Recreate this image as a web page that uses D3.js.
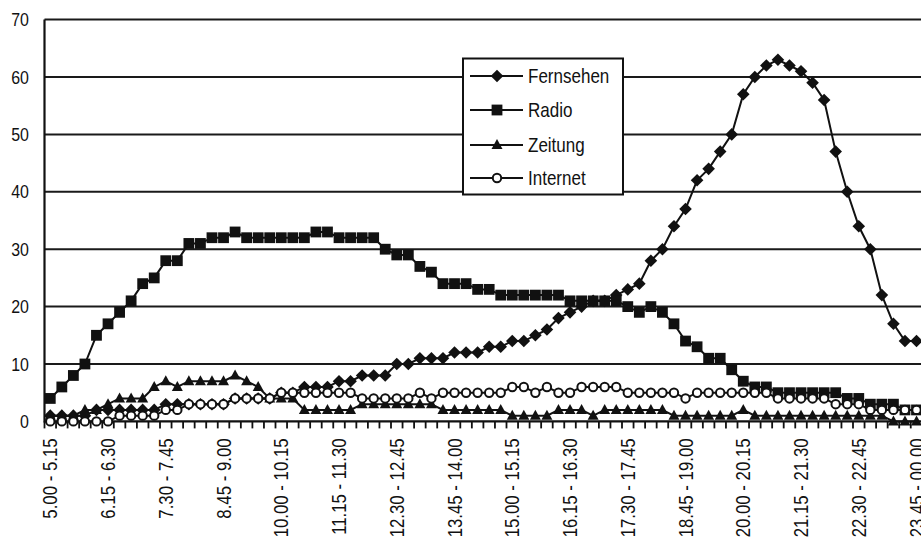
<!DOCTYPE html>
<html><head><meta charset="utf-8">
<script src="https://cdn.jsdelivr.net/npm/d3@7"></script>
<style>
html,body{margin:0;padding:0;background:#fff;}
svg{display:block;}
text{font-family:"Liberation Sans",Arial,sans-serif;fill:#111;}
</style></head>
<body>
<svg id="chart" width="921" height="544"></svg>
<script>
const categories = [
"5.00 - 5.15","5.15 - 5.30","5.30 - 5.45","5.45 - 6.00",
"6.00 - 6.15","6.15 - 6.30","6.30 - 6.45","6.45 - 7.00",
"7.00 - 7.15","7.15 - 7.30","7.30 - 7.45","7.45 - 8.00",
"8.00 - 8.15","8.15 - 8.30","8.30 - 8.45","8.45 - 9.00",
"9.00 - 9.15","9.15 - 9.30","9.30 - 9.45","9.45 - 10.00",
"10.00 - 10.15","10.15 - 10.30","10.30 - 10.45","10.45 - 11.00",
"11.00 - 11.15","11.15 - 11.30","11.30 - 11.45","11.45 - 12.00",
"12.00 - 12.15","12.15 - 12.30","12.30 - 12.45","12.45 - 13.00",
"13.00 - 13.15","13.15 - 13.30","13.30 - 13.45","13.45 - 14.00",
"14.00 - 14.15","14.15 - 14.30","14.30 - 14.45","14.45 - 15.00",
"15.00 - 15.15","15.15 - 15.30","15.30 - 15.45","15.45 - 16.00",
"16.00 - 16.15","16.15 - 16.30","16.30 - 16.45","16.45 - 17.00",
"17.00 - 17.15","17.15 - 17.30","17.30 - 17.45","17.45 - 18.00",
"18.00 - 18.15","18.15 - 18.30","18.30 - 18.45","18.45 - 19.00",
"19.00 - 19.15","19.15 - 19.30","19.30 - 19.45","19.45 - 20.00",
"20.00 - 20.15","20.15 - 20.30","20.30 - 20.45","20.45 - 21.00",
"21.00 - 21.15","21.15 - 21.30","21.30 - 21.45","21.45 - 22.00",
"22.00 - 22.15","22.15 - 22.30","22.30 - 22.45","22.45 - 23.00",
"23.00 - 23.15","23.15 - 23.30","23.30 - 23.45","23.45 - 00.00"];

const tickLabels = ["5.00 - 5.15","6.15 - 6.30","7.30 - 7.45","8.45 - 9.00",
"10.00 - 10.15","11.15 - 11.30","12.30 - 12.45","13.45 - 14.00",
"15.00 - 15.15","16.15 - 16.30","17.30 - 17.45","18.45 - 19.00",
"20.00 - 20.15","21.15 - 21.30","22.30 - 22.45","23.45 - 00.00"];

const yTicks = [0,10,20,30,40,50,60,70];

const fernsehen = [1,1,1,1,2,2,2,2,2,2,3,3,3,3,3,3,4,4,4,4,
5,5,6,6,6,7,7,8,8,8,10,10,11,11,11,12,12,12,13,13,
14,14,15,16,18,19,20,21,21,22,23,24,28,30,34,37,42,44,47,50,
57,60,62,63,62,61,59,56,47,40,34,30,22,17,14,14];

const radio = [4,6,8,10,15,17,19,21,24,25,28,28,31,31,32,32,33,32,32,32,
32,32,32,33,33,32,32,32,32,30,29,29,27,26,24,24,24,23,23,22,
22,22,22,22,22,21,21,21,21,21,20,19,20,19,17,14,13,11,11,9,
7,6,6,5,5,5,5,5,5,4,4,3,3,3,2,2];

const zeitung = [1,1,1,2,2,3,4,4,4,6,7,6,7,7,7,7,8,7,6,4,
4,4,2,2,2,2,2,3,3,3,3,3,3,3,2,2,2,2,2,2,
1,1,1,1,2,2,2,1,2,2,2,2,2,2,1,1,1,1,1,1,
2,1,1,1,1,1,1,1,1,1,1,1,1,0,0,0];

const internet = [0,0,0,0,0,0,1,1,1,1,2,2,3,3,3,3,4,4,4,4,
5,5,5,5,5,5,5,4,4,4,4,4,5,4,5,5,5,5,5,5,
6,6,5,6,5,5,6,6,6,6,5,5,5,5,5,4,5,5,5,5,
5,5,5,4,4,4,4,4,3,3,3,2,2,2,2,2];

const seriesNames = ["Fernsehen","Radio","Zeitung","Internet"];
const seriesValues = [fernsehen, radio, zeitung, internet];
const markerTypes = ["diamond","square","triangle","circle"];

const svg = d3.select("#chart");
const plotLeft = 44.5, plotTop = 19.6, plotBottom = 421.4, step = 11.55;
const narrow = 0.84;
const x = d3.scaleBand().domain(categories).range([plotLeft, plotLeft + step*categories.length]).padding(0);
const y = d3.scaleLinear().domain([0,70]).range([plotBottom, plotTop]);
const cx = c => x(c) + x.bandwidth()/2;

// gridlines
svg.append("g").selectAll("line").data(yTicks.filter(v=>v>0)).join("line")
  .attr("x1", plotLeft).attr("x2", 921).attr("y1", d=>y(d)).attr("y2", d=>y(d))
  .attr("stroke","#1a1a1a").attr("stroke-width",2);

// y labels
svg.append("g").selectAll("text").data(yTicks).join("text")
  .attr("transform", d=>`translate(29,${y(d)}) scale(${narrow},1)`)
  .attr("dy","0.35em").attr("text-anchor","end")
  .attr("font-size", 19).text(d=>d);

// x axis line
svg.append("line").attr("x1",plotLeft).attr("x2",921).attr("y1",plotBottom).attr("y2",plotBottom)
  .attr("stroke","#111").attr("stroke-width",2.2);
// y axis line
svg.append("line").attr("x1",plotLeft).attr("x2",plotLeft).attr("y1",plotTop).attr("y2",plotBottom+1)
  .attr("stroke","#111").attr("stroke-width",2.2);

// boundary ticks
svg.append("g").selectAll("line").data(categories).join("line")
  .attr("x1", d=>x(d)).attr("x2", d=>x(d)).attr("y1", plotBottom).attr("y2", plotBottom+7)
  .attr("stroke","#111").attr("stroke-width",1.8);

// x labels
const xAxis = d3.axisBottom(x).tickValues(tickLabels).tickSize(0).tickPadding(0);
const gx = svg.append("g").attr("transform",`translate(0,${plotBottom})`).call(xAxis);
gx.select(".domain").remove();
gx.selectAll("text")
  .attr("font-family","'Liberation Sans',Arial,sans-serif")
  .attr("font-size",20).attr("fill","#111")
  .attr("text-anchor","end")
  .attr("transform",`translate(0,17) rotate(-90) scale(${narrow},1)`)
  .attr("dx",0).attr("dy","0.36em").attr("x",0).attr("y",0);

// markers
function drawMarker(g, type, px, py){
  if(type==="diamond"){
    g.append("path").attr("d",`M${px},${py-6.3}L${px+6.3},${py}L${px},${py+6.3}L${px-6.3},${py}Z`).attr("fill","#111");
  } else if(type==="square"){
    g.append("rect").attr("x",px-5.4).attr("y",py-5.4).attr("width",10.8).attr("height",10.8).attr("fill","#111");
  } else if(type==="triangle"){
    g.append("path").attr("d",`M${px},${py-6}L${px+5.5},${py+4}L${px-5.5},${py+4}Z`).attr("fill","#111");
  } else {
    g.append("circle").attr("cx",px).attr("cy",py).attr("r",4.2).attr("fill","#fff").attr("stroke","#111").attr("stroke-width",2);
  }
}

const line = d3.line().x(d=>cx(d.c)).y(d=>y(d.v));
seriesValues.forEach((vals,si)=>{
  const data = categories.map((c,i)=>({c, v: vals[i]}));
  const g = svg.append("g");
  g.append("path").datum(data).attr("d",line).attr("fill","none").attr("stroke","#111").attr("stroke-width",2);
  data.forEach(d=>drawMarker(g, markerTypes[si], cx(d.c), y(d.v)));
});

// legend
const lg = svg.append("g");
lg.append("rect").attr("x",463).attr("y",58.5).attr("width",160).attr("height",136)
  .attr("fill","#fff").attr("stroke","#111").attr("stroke-width",2);
const ly = [76,110,145,178];
seriesNames.forEach((n,i)=>{
  lg.append("line").attr("x1",470).attr("x2",523).attr("y1",ly[i]).attr("y2",ly[i]).attr("stroke","#111").attr("stroke-width",2);
  drawMarker(lg, markerTypes[i], 497, ly[i]);
  lg.append("text").attr("transform",`translate(528,${ly[i]}) scale(0.83,1)`)
    .attr("dy","0.36em").attr("font-size",20.5).text(n);
});
</script>
</body></html>
